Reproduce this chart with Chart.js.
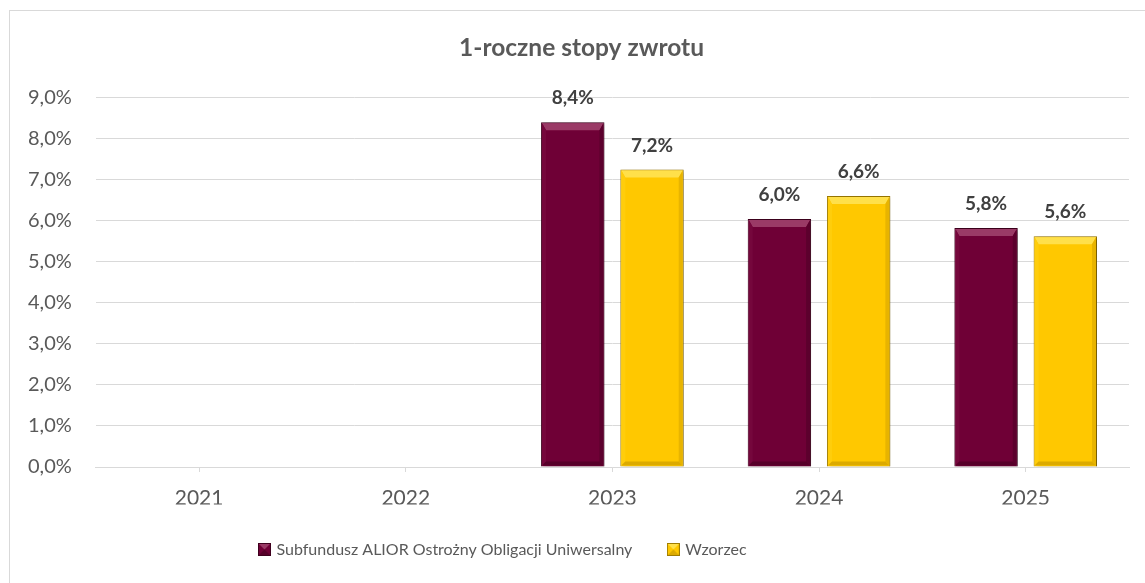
<!DOCTYPE html>
<html>
<head>
<meta charset="utf-8">
<script src="https://cdn.jsdelivr.net/npm/chart.js@4/dist/chart.umd.min.js"></script>
<style>
  html, body { margin: 0; padding: 0; background: #fff; }
  #wrap { position: relative; width: 1145px; height: 583px; overflow: hidden; }
  #frame { position: absolute; left: 9px; top: 10px; width: 1200px; height: 700px;
           border-left: 1px solid #d9d9d9; border-top: 1px solid #d9d9d9; }
  canvas { position: absolute; left: 0; top: 0; }
</style>
</head>
<body>
<div id="wrap">
  <div id="frame"></div>
  <canvas id="chart" width="1145" height="583"></canvas>
</div>
<script>
// values
const years = ['2021', '2022', '2023', '2024', '2025'];
const fundReturns = [null, null, 8.39, 6.04, 5.82];
const benchmarkReturns = [null, null, 7.24, 6.6, 5.62];
const seriesNames = ['Subfundusz ALIOR Ostrożny Obligacji Uniwersalny', 'Wzorzec'];

const fmt = v => v.toFixed(1).replace('.', ',') + '%';

const palette = [
  { main: '#6f0036', top: '#9a3a66', left: '#75073c', right: '#5c002d', bottom: '#560029', border: '#3f001e' },
  { main: '#ffc800', top: '#ffe04a', left: '#ffcd0c', right: '#e8b400', bottom: '#dcaa00', border: '#a07c00' }
];

function legendBox(p) {
  const c = document.createElement('canvas');
  c.width = 13; c.height = 13;
  const g = c.getContext('2d');
  g.fillStyle = p.main; g.fillRect(0, 0, 13, 13);
  g.fillStyle = p.top;
  g.beginPath(); g.moveTo(0, 0); g.lineTo(13, 0); g.lineTo(6.5, 6.5); g.closePath(); g.fill();
  g.fillStyle = p.bottom;
  g.beginPath(); g.moveTo(0, 13); g.lineTo(13, 13); g.lineTo(6.5, 6.5); g.closePath(); g.fill();
  g.strokeStyle = p.border; g.lineWidth = 1; g.strokeRect(0.5, 0.5, 12, 12);
  return c;
}

// nudge title and legend to where Excel put them
const nudgePlugin = {
  id: 'nudge',
  beforeDraw(chart) {
    chart.titleBlock.left += 15;
    chart.titleBlock.right += 15;
    chart.legend.left -= 63;
    chart.legend.right -= 63;
  }
};

const bevelPlugin = {
  id: 'bevel',
  beforeDatasetsDraw(chart) {
    const ctx = chart.ctx;
    ctx.save();
    ctx.shadowColor = 'rgba(0,0,0,0.3)';
    ctx.shadowBlur = 4;
    ctx.shadowOffsetX = 2;
    ctx.shadowOffsetY = 1;
  },
  afterDatasetsDraw(chart) {
    const ctx = chart.ctx;
    ctx.restore();
    chart.data.datasets.forEach((ds, i) => {
      const p = palette[i];
      chart.getDatasetMeta(i).data.forEach((bar, j) => {
        if (ds.data[j] == null) return;
        const l = bar.x - bar.width / 2 + 1, r = bar.x + bar.width / 2 - 1;
        const t = bar.y + 1, b = bar.base - 1, d = 7, s = 4;
        const poly = (pts, col) => {
          ctx.fillStyle = col;
          ctx.beginPath();
          ctx.moveTo(pts[0][0], pts[0][1]);
          pts.slice(1).forEach(q => ctx.lineTo(q[0], q[1]));
          ctx.closePath();
          ctx.fill();
        };
        poly([[l, t], [r, t], [r - s, t + d], [l + s, t + d]], p.top);
        poly([[l, t], [l + s, t + d], [l + s, b - s], [l, b]], p.left);
        poly([[r, t], [r - s, t + d], [r - s, b - s], [r, b]], p.right);
        poly([[l, b], [l + s, b - s], [r - s, b - s], [r, b]], p.bottom);
        // value label
        ctx.fillStyle = '#404040';
        ctx.font = 'bold 19px Lato';
        ctx.textAlign = 'center';
        ctx.textBaseline = 'middle';
        ctx.fillText(fmt(ds.data[j]), bar.x, bar.y - 24);
      });
    });
  }
};

new Chart(document.getElementById('chart'), {
  type: 'bar',
  data: {
    labels: years,
    datasets: [
      {
        label: seriesNames[0],
        data: fundReturns,
        backgroundColor: palette[0].main,
        borderColor: palette[0].border,
        borderWidth: 1,
        pointStyle: legendBox(palette[0])
      },
      {
        label: seriesNames[1],
        data: benchmarkReturns,
        backgroundColor: palette[1].main,
        borderColor: palette[1].border,
        borderWidth: 1,
        pointStyle: legendBox(palette[1])
      }
    ]
  },
  options: {
    responsive: false,
    animation: false,
    events: [],
    categoryPercentage: 0.767,
    barPercentage: 0.8,
    layout: { padding: { left: 4, right: 16, top: 18, bottom: 15.5 } },
    plugins: {
      title: {
        display: true,
        text: '1-roczne stopy zwrotu',
        color: '#595959',
        font: { family: 'Lato', size: 24.5, weight: 'bold', lineHeight: 1.2 },
        padding: { top: 15.3, bottom: 34.6 }
      },
      legend: {
        position: 'bottom',
        labels: {
          usePointStyle: true,
          pointStyleWidth: 8,
          boxHeight: 13,
          padding: 37,
          color: '#595959',
          font: { family: 'Lato', size: 16 }
        }
      },
      tooltip: { enabled: false }
    },
    scales: {
      x: {
        grid: { offset: false, drawOnChartArea: false, color: '#d9d9d9', tickLength: 5 },
        border: { color: '#d9d9d9', width: 1 },
        ticks: { color: '#595959', font: { family: 'Lato', size: 21, lineHeight: 1 }, padding: 16 },
        afterFit: scale => { scale.height = 37.5; }
      },
      y: {
        min: 0,
        max: 9,
        ticks: {
          stepSize: 1,
          color: '#595959',
          font: { family: 'Lato', size: 20 },
          padding: 24,
          callback: v => fmt(v)
        },
        grid: { color: '#d9d9d9', drawTicks: false },
        border: { display: false }
      }
    }
  },
  plugins: [nudgePlugin, bevelPlugin]
});
</script>
</body>
</html>
